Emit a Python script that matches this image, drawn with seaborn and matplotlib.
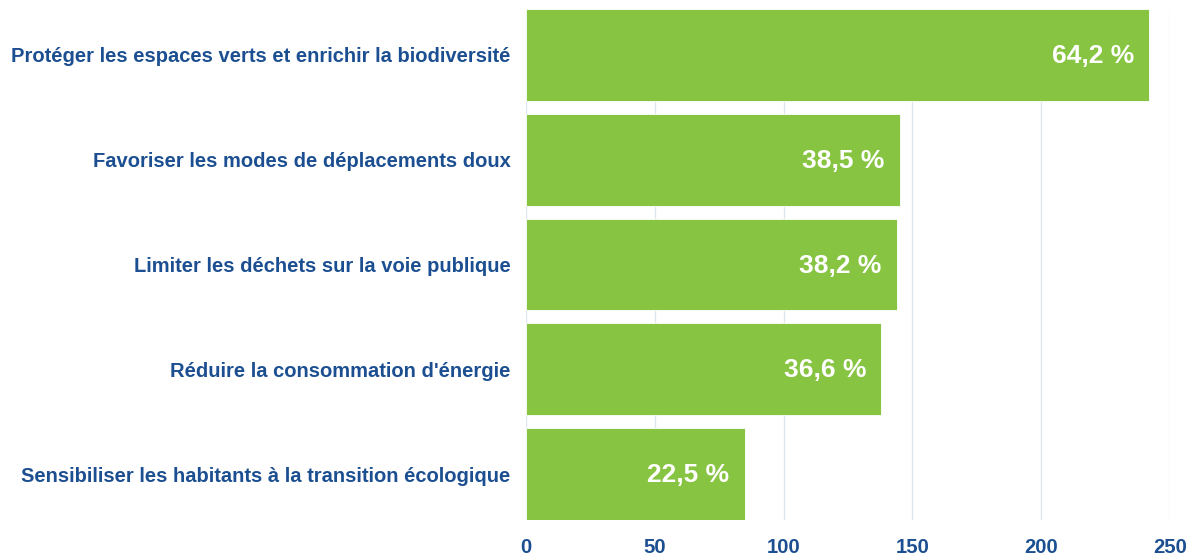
import matplotlib
matplotlib.use("Agg")
import matplotlib.pyplot as plt
import pandas as pd
import seaborn as sns

categories = [
    "Protéger les espaces verts et enrichir la biodiversité",
    "Favoriser les modes de déplacements doux",
    "Limiter les déchets sur la voie publique",
    "Réduire la consommation d'énergie",
    "Sensibiliser les habitants à la transition écologique",
]
counts = [242, 145, 144, 138, 85]
percents = ["64,2 %", "38,5 %", "38,2 %", "36,6 %", "22,5 %"]
xticks = [0, 50, 100, 150, 200, 250]

BLUE = "#1c4f91"
GREEN = "#86c441"
BAR_H = 0.876

df = pd.DataFrame({"categorie": categories, "effectif": counts})

sns.set_theme(style="white")
plt.rcParams["font.family"] = ["Liberation Sans", "DejaVu Sans"]

fig = plt.figure(figsize=(11.97, 5.56), dpi=100)
ax = fig.add_axes([526 / 1197, 36 / 556, 644 / 1197, 511 / 556])

sns.barplot(data=df, x="effectif", y="categorie", color=GREEN, width=BAR_H,
            saturation=1, edgecolor="white", linewidth=0.6, ax=ax, zorder=3)

for i, (value, label) in enumerate(zip(counts, percents)):
    ax.text(value - 6, i + 0.01, label, ha="right", va="center", color="white",
            fontsize=19, fontweight="bold", zorder=4)

ax.set_xlim(0, 250)
ax.set_ylim(len(categories) - 1 + BAR_H / 2, -BAR_H / 2)
ax.set_xticks(xticks)
ax.xaxis.grid(True, color="#dde6ef", linewidth=1, zorder=0)
ax.set_axisbelow(True)
for spine in ax.spines.values():
    spine.set_visible(False)
ax.set_xlabel("")
ax.set_ylabel("")
ax.tick_params(axis="both", length=0)
ax.tick_params(axis="y", pad=11)
ax.tick_params(axis="x", pad=13)
for lbl in ax.get_yticklabels():
    lbl.set_color(BLUE)
    lbl.set_fontsize(14.5)
    lbl.set_fontweight("bold")
for lbl in ax.get_xticklabels():
    lbl.set_color(BLUE)
    lbl.set_fontsize(14.6)
    lbl.set_fontweight("bold")

fig.savefig("out.png", dpi=100)
plt.close(fig)
